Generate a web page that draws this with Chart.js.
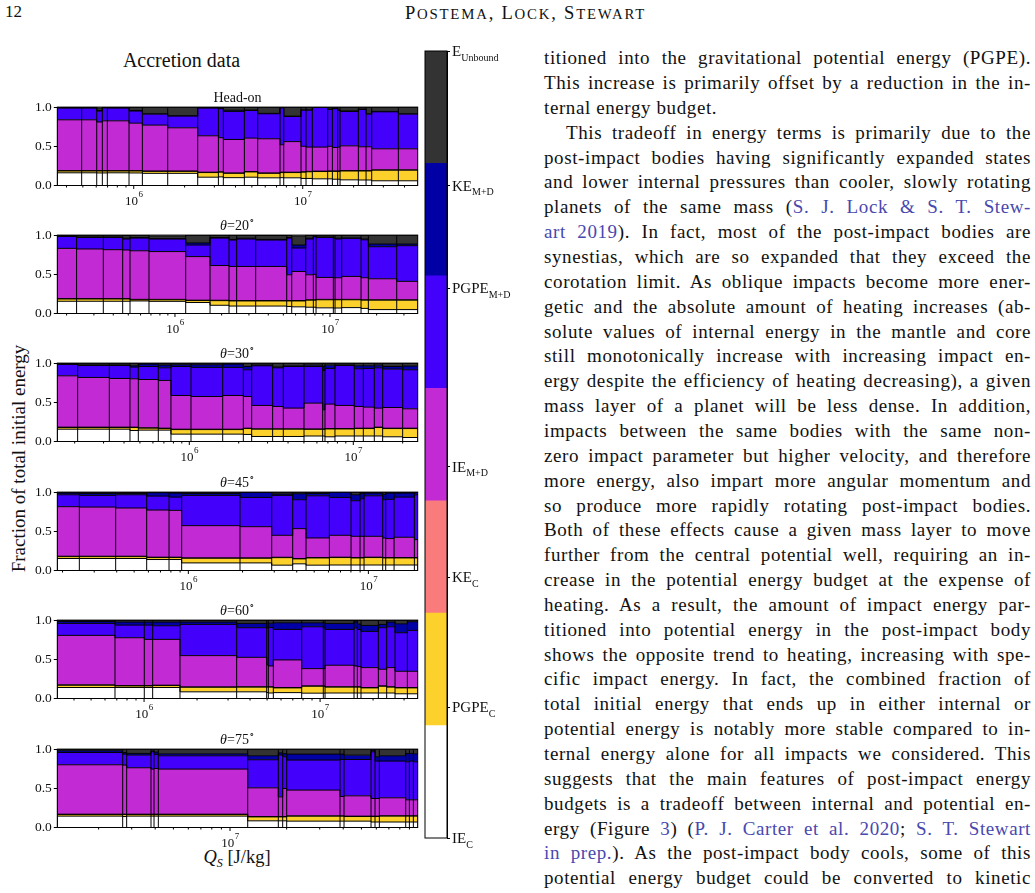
<!DOCTYPE html>
<html>
<head>
<meta charset="utf-8">
<title>Accretion data</title>
<script src="https://cdn.jsdelivr.net/npm/chart.js@4.4.1/dist/chart.umd.min.js"></script>
<style>
  html, body { margin: 0; padding: 0; background: #fff; }
  body { position: relative; width: 1035px; height: 893px; overflow: hidden;
         font-family: "Liberation Serif", "Times New Roman", serif; color: #111; }
  .abs { position: absolute; white-space: nowrap; line-height: 1; }
  canvas { position: absolute; }
  .ln { position: absolute; left: 544px; width: 487px; font-size: 19px; line-height: 24.85px;
        letter-spacing: 0.6px; text-align: justify; text-align-last: justify; }
  .ln a { color: #4848ae; text-decoration: none; }
  .ptitle { position: absolute; left: 137.5px; width: 200px; text-align: center; font-size: 14px; line-height: 1; }
  .deg { font-size: 9px; position: relative; top: -6px; }
  .sc { font-size: 14.8px; }
</style>
</head>
<body>
<div class="abs" style="left:5px; top:3px; font-size:17px;">12</div>
<div class="abs" style="left:325.5px; width:400px; text-align:center; top:4px; font-size:18.5px; letter-spacing:1.8px;">P<span class="sc">OSTEMA</span>, L<span class="sc">OCK</span>, S<span class="sc">TEWART</span></div>
<div class="abs" style="left:81.5px; width:200px; text-align:center; top:50px; font-size:20px;">Accretion data</div>
<div class="abs" style="left:-182px; width:400px; text-align:center; top:448.5px; font-size:19px; transform:rotate(-90deg);">Fraction of total initial energy</div>
<div class="abs" style="left:137px; width:200px; text-align:center; top:847.5px; font-size:18.5px;"><i>Q<span style="font-size:12px; position:relative; top:4px;">S</span></i> [J/kg]</div>

<script>
// ── data: one row per panel (Head-on, 20°, 30°, 45°, 60°, 75°) ──
const panelAngles = [null, 20, 30, 45, 60, 75];

// x-axis limits, Q_S in J/kg
const xMin = [3.53e5, 1.742e5, 1.567e5, 1.871e5, 3.214e5, 1.206e6];
const xMax = [4.79e7, 3.68e7, 2.47e7, 1.879e7, 3.586e7, 9.96e7];

// bar edges, Q_S in J/kg
const edges = [
  [3.53e5, 4.92e5, 6.04e5, 6.52e5, 6.98e5, 9.38e5, 1.125e6, 1.589e6, 2.391e6, 3.17e6, 3.39e6, 4.515e6, 5.415e6, 7.34e6, 7.72e6, 9.77e6, 1.046e7, 1.14e7, 1.405e7, 1.498e7, 1.61e7, 1.663e7, 2.134e7, 2.37e7, 2.56e7, 3.68e7, 4.79e7],
  [1.742e5, 2.32e5, 3.45e5, 4.6e5, 5.13e5, 6.8e5, 1.173e6, 1.684e6, 2.232e6, 2.5e6, 3.317e6, 5.26e6, 5.665e6, 6.973e6, 7.81e6, 8.13e6, 1.051e7, 1.078e7, 1.19e7, 1.586e7, 1.768e7, 2.695e7, 3.68e7],
  [1.567e5, 2.085e5, 3.253e5, 4.347e5, 4.888e5, 6.471e5, 7.73e5, 1.024e6, 1.598e6, 2.135e6, 2.4e6, 3.222e6, 3.743e6, 5.005e6, 6.504e6, 6.72e6, 7.73e6, 1.014e7, 1.151e7, 1.343e7, 1.51e7, 2.0e7, 2.47e7],
  [1.871e5, 2.48e5, 3.947e5, 5.869e5, 7.81e5, 9.18e5, 1.936e6, 2.904e6, 3.798e6, 4.505e6, 6.072e6, 8.01e6, 8.99e6, 9.46e6, 1.201e7, 1.248e7, 1.389e7, 1.801e7, 1.879e7],
  [3.214e5, 6.836e5, 1.003e6, 1.119e6, 1.6e6, 3.358e6, 4.973e6, 5.082e6, 5.425e6, 7.862e6, 1.043e7, 1.067e7, 1.559e7, 1.628e7, 1.708e7, 2.143e7, 2.39e7, 2.666e7, 3.132e7, 3.586e7],
  [1.206e6, 2.686e6, 2.82e6, 3.8e6, 3.943e6, 4.157e6, 1.242e7, 1.807e7, 1.906e7, 2.002e7, 3.847e7, 4.04e7, 5.623e7, 5.906e7, 6.227e7, 8.6e7, 8.995e7, 9.445e7, 9.96e7],
];

// fractions of total initial energy, bottom to top of each bar
const ieC = [
  [.162, .162, .16, .16, .162, .16, .155, .155, .106, .11, .10, .106, .098, .10, .098, .09, .09, .085, .085, .08, .08, .072, .07, .07, .06, .06],
  [.156, .156, .156, .156, .16, .155, .14, .105, .095, .095, .095, .09, .085, .08, .08, .072, .07, .07, .075, .065, .05, .05],
  [.157, .157, .157, .14, .145, .145, .094, .094, .094, .09, .064, .064, .064, .07, .07, .06, .07, .07, .07, .07, .06, .051],
  [.153, .153, .153, .14, .14, .097, .097, .068, .085, .068, .07, .07, .07, .07, .07, .07, .07, .07],
  [.14, .14, .14, .14, .085, .085, .075, .07, .075, .068, .068, .07, .07, .07, .07, .07, .07, .06, .06],
  [.145, .14, .145, .145, .145, .145, .085, .085, .085, .081, .081, .081, .07, .07, .07, .07, .07, .07],
];
const pgpeC = [
  [.023, .023, .025, .025, .023, .025, .025, .025, .059, .06, .055, .067, .057, .065, .067, .08, .085, .093, .095, .10, .10, .113, .115, .115, .135, .135],
  [.029, .029, .029, .029, .015, .02, .025, .059, .065, .065, .065, .07, .075, .09, .09, .103, .105, .105, .10, .105, .12, .12],
  [.021, .021, .021, .038, .025, .02, .058, .058, .058, .075, .093, .093, .093, .085, .085, .10, .09, .095, .095, .108, .105, .114],
  [.024, .024, .024, .025, .025, .059, .059, .096, .063, .092, .095, .09, .09, .095, .09, .09, .09, .09],
  [.029, .02, .02, .025, .058, .06, .07, .075, .06, .088, .088, .075, .075, .075, .065, .086, .075, .075, .075],
  [.02, .025, .02, .02, .02, .02, .05, .05, .05, .063, .063, .059, .07, .07, .075, .075, .075, .075],
];
const keC = [
  [.005, .005, .005, .005, .005, .005, .005, .005, .005, .005, .005, .005, .005, .005, .005, .005, .005, .005, .005, .005, .005, .005, .005, .005, .005, .005],
  [.005, .005, .005, .005, .005, .005, .005, .005, .005, .005, .005, .005, .005, .005, .005, .005, .005, .005, .005, .005, .005, .005],
  [.005, .005, .005, .005, .005, .005, .005, .005, .005, .005, .005, .005, .005, .005, .005, .005, .005, .005, .005, .005, .005, .005],
  [.005, .005, .005, .005, .005, .005, .005, .005, .005, .005, .005, .005, .005, .005, .005, .005, .005, .005],
  [.005, .005, .005, .005, .005, .005, .005, .005, .005, .005, .005, .005, .005, .005, .005, .005, .005, .005, .005],
  [.005, .005, .005, .005, .005, .005, .005, .005, .005, .005, .005, .005, .005, .005, .005, .005, .005, .005],
];
const ieMD = [
  [.648, .648, .62, .635, .635, .605, .585, .551, .464, .435, .427, .426, .436, .35, .39, .325, .31, .307, .315, .30, .305, .316, .304, .304, .268, .268],
  [.641, .633, .624, .62, .62, .61, .556, .443, .435, .435, .435, .329, .371, .319, .325, .28, .275, .276, .293, .281, .268, .235],
  [.655, .634, .621, .617, .616, .609, .43, .417, .43, .404, .298, .285, .264, .329, .244, .312, .295, .277, .268, .243, .264, .247],
  [.632, .627, .615, .601, .597, .411, .398, .28, .381, .25, .279, .271, .271, .266, .25, .242, .259, .229],
  [.631, .61, .589, .584, .399, .375, .28, .265, .352, .22, .22, .274, .265, .257, .254, .212, .244, .207, .207],
  [.63, .626, .592, .575, .583, .575, .366, .251, .358, .328, .247, .259, .225, .225, .229, .203, .203, .203],
];
const pgpeMD = [
  [.149, .149, .14, .165, .162, .155, .14, .149, .353, .37, .358, .353, .319, .47, .32, .46, .47, .506, .47, .495, .47, .439, .476, .416, .472, .442],
  [.152, .147, .156, .14, .162, .16, .147, .35, .337, .35, .337, .468, .299, .456, .48, .51, .505, .494, .485, .484, .409, .455],
  [.145, .153, .166, .149, .166, .161, .37, .371, .358, .341, .506, .493, .531, .468, .502, .455, .51, .481, .494, .514, .489, .498],
  [.152, .149, .169, .178, .169, .386, .373, .509, .369, .538, .483, .454, .479, .517, .488, .50, .512, .572],
  [.153, .161, .182, .174, .398, .378, .47, .49, .389, .534, .52, .457, .488, .473, .462, .53, .521, .492, .522],
  [.157, .14, .161, .221, .179, .17, .358, .532, .404, .383, .472, .464, .596, .477, .468, .485, .494, .485],
];
const keMD = [
  [.005, .005, .005, .003, .003, .007, .005, .005, .003, .005, .015, .005, .005, .003, .005, .005, .005, .002, .005, .005, .005, .005, .005, .005, .005, .005],
  [.005, .005, .005, .01, .008, .005, .027, .008, .008, .01, .008, .008, .038, .01, .005, .005, .005, .01, .007, .01, .034, .021],
  [.007, .005, .005, .017, .03, .035, .022, .034, .042, .042, .009, .01, .008, .017, .05, .042, .005, .038, .034, .034, .034, .047],
  [.021, .025, .017, .043, .051, .025, .064, .017, .076, .03, .068, .076, .065, .034, .067, .08, .051, .034],
  [.025, .039, .039, .047, .03, .055, .06, .055, .085, .051, .06, .077, .077, .07, .076, .042, .06, .114, .11],
  [.022, .02, .022, .009, .03, .025, .051, .03, .04, .076, .068, .055, .018, .055, .068, .107, .098, .102],
];
const eUnb = [
  [.008, .008, .035, .007, .01, .043, .085, .11, .01, .015, .04, .038, .08, .007, .115, .035, .035, .002, .025, .015, .035, .05, .025, .085, .055, .085],
  [.012, .025, .025, .035, .03, .035, .10, .03, .055, .04, .05, .03, .117, .04, .015, .025, .035, .04, .035, .05, .114, .114],
  [.01, .025, .025, .034, .013, .025, .021, .021, .013, .043, .025, .05, .035, .026, .044, .026, .025, .034, .034, .026, .043, .038],
  [.013, .017, .017, .008, .013, .017, .004, .025, .021, .017, 0, .034, .015, .013, .03, .013, .013, 0],
  [.017, .025, .025, .025, .025, .042, .04, .04, .034, .034, .039, .042, .02, .05, .068, .055, .025, .047, .021],
  [.021, .044, .055, .025, .038, .06, .085, .047, .058, .064, .064, .077, .016, .098, .085, .055, .055, .06],
];

// colorbar
const cbarNames = ["IE", "PGPE", "KE", "IE", "PGPE", "KE", "E"];
const cbarSubs = ["C", "C", "C", "M+D", "M+D", "M+D", "Unbound"];
const cbarTicks = [0, 1.165, 2.32, 3.3, 4.89, 5.8, 7];

const textLines = [
  "titioned into the gravitational potential energy (PGPE).",
  "This increase is primarily offset by a reduction in the in-",
  "ternal energy budget.",
  "This tradeoff in energy terms is primarily due to the",
  "post-impact bodies having significantly expanded states",
  "and lower internal pressures than cooler, slowly rotating",
  'planets of the same mass (<a>S. J. Lock &amp; S. T. Stew-</a>',
  '<a>art 2019</a>). In fact, most of the post-impact bodies are',
  "synestias, which are so expanded that they exceed the",
  "corotation limit. As oblique impacts become more ener-",
  "getic and the absolute amount of heating increases (ab-",
  "solute values of internal energy in the mantle and core",
  "still monotonically increase with increasing impact en-",
  "ergy despite the efficiency of heating decreasing), a given",
  "mass layer of a planet will be less dense. In addition,",
  "impacts between the same bodies with the same non-",
  "zero impact parameter but higher velocity, and therefore",
  "more energy, also impart more angular momentum and",
  "so produce more rapidly rotating post-impact bodies.",
  "Both of these effects cause a given mass layer to move",
  "further from the central potential well, requiring an in-",
  "crease in the potential energy budget at the expense of",
  "heating. As a result, the amount of impact energy par-",
  "titioned into potential energy in the post-impact body",
  "shows the opposite trend to heating, increasing with spe-",
  "cific impact energy. In fact, the combined fraction of",
  "total initial energy that ends up in either internal or",
  "potential energy is notably more stable compared to in-",
  "ternal energy alone for all impacts we considered. This",
  "suggests that the main features of post-impact energy",
  "budgets is a tradeoff between internal and potential en-",
  'ergy (Figure <a>3</a>) (<a>P. J. Carter et al. 2020</a>; <a>S. T. Stewart</a>',
  '<a>in prep.</a>). As the post-impact body cools, some of this',
  "potential energy budget could be converted to kinetic",
];

// ── layout ──
const plotTops = [106.7, 234.7, 363.3, 492, 620, 749];
const PLOT_H = 78.5;
const PLOT_L = 57.3;
const PLOT_R = 417.7;
const CANVAS_W = 425;
const CANVAS_H = 112;
const PAD_TOP = 10;
const FONT = '"Liberation Serif", "Times New Roman", serif';

const layers = [ieC, pgpeC, keC, ieMD, pgpeMD, keMD, eUnb];
const layerColors = ["#ffffff", "#fdd12c", "#fa7b7b", "#c22ad4", "#4300fa", "#0000a5", "#333333"];

Chart.defaults.font.family = FONT;
Chart.defaults.color = "#111";

// body text
textLines.forEach((t, i) => {
  const d = document.createElement("div");
  d.className = "ln";
  d.style.top = (46.2 + i * 24.85) + "px";
  d.innerHTML = t;
  if (i === 2) d.style.textAlignLast = "left";
  if (i === 3) d.style.textIndent = "22px";
  document.body.appendChild(d);
});

// x ticks (log, with 10^n labels) and a frame around each panel
const logAxisDeco = {
  id: "logAxisDeco",
  afterDraw(chart) {
    const { ctx, chartArea: a } = chart;
    const x = chart.scales.x;
    ctx.save();
    ctx.strokeStyle = "#000";
    ctx.lineWidth = 1;
    ctx.strokeRect(a.left, a.top, a.right - a.left, a.bottom - a.top);
    const lo = Math.floor(Math.log10(x.min));
    const hi = Math.ceil(Math.log10(x.max));
    for (let d = lo; d <= hi; d++) {
      for (let m = 1; m <= 9; m++) {
        const v = m * Math.pow(10, d);
        if (v < x.min * 0.999 || v > x.max * 1.001) continue;
        const px = x.getPixelForValue(v);
        ctx.beginPath();
        ctx.moveTo(px, a.bottom);
        ctx.lineTo(px, a.bottom + (m === 1 ? 3.5 : 2));
        ctx.stroke();
        if (m === 1) {
          ctx.fillStyle = "#111";
          ctx.textAlign = "left";
          ctx.textBaseline = "alphabetic";
          ctx.font = "13px " + FONT;
          const w1 = ctx.measureText("10").width;
          ctx.font = "9px " + FONT;
          const w2 = ctx.measureText(String(d)).width;
          const x0 = px - (w1 + w2) / 2;
          ctx.font = "13px " + FONT;
          ctx.fillText("10", x0, a.bottom + 19.3);
          ctx.font = "9px " + FONT;
          ctx.fillText(String(d), x0 + w1 + 0.5, a.bottom + 11.7);
        }
      }
    }
    ctx.restore();
  },
};

function buildPanel(p) {
  const e = edges[p];
  const n = e.length - 1;
  const cum = new Array(n).fill(0);
  const datasets = [];

  // ── stacked layers as stepped lines filled to the one below ──
  layers.forEach((layer, k) => {
    for (let i = 0; i < n; i++) cum[i] += layer[p][i] || 0;
    const pts = e.map((x, i) => ({ x: x, y: cum[Math.min(i, n - 1)] }));
    datasets.push({
      data: pts,
      stepped: "before",
      fill: k === 0 ? "origin" : "-1",
      backgroundColor: layerColors[k],
      borderColor: "#000",
      borderWidth: 1,
      pointRadius: 0,
      order: 1,
    });
  });

  // ── bar outlines ──
  const vert = [];
  e.forEach((x, i) => {
    const t = Math.max(cum[Math.max(i - 1, 0)], cum[Math.min(i, n - 1)]);
    vert.push({ x: x, y: 0 }, { x: x, y: t }, { x: x, y: null });
  });
  datasets.push({
    data: vert,
    borderColor: "#000",
    borderWidth: 1,
    pointRadius: 0,
    fill: false,
    spanGaps: false,
    order: 0,
  });

  const canvas = document.createElement("canvas");
  canvas.width = CANVAS_W;
  canvas.height = CANVAS_H;
  canvas.style.left = "0px";
  canvas.style.top = (plotTops[p] - PAD_TOP) + "px";
  document.body.appendChild(canvas);

  new Chart(canvas, {
    type: "line",
    data: { datasets },
    options: {
      responsive: false,
      animation: false,
      events: [],
      layout: { padding: { top: PAD_TOP, right: CANVAS_W - PLOT_R, bottom: 0, left: 0 } },
      plugins: { legend: { display: false }, tooltip: { enabled: false } },
      scales: {
        x: {
          type: "logarithmic",
          min: xMin[p],
          max: xMax[p],
          ticks: { display: false },
          grid: { display: false },
          border: { display: true, color: "#000" },
          afterFit: (s) => { s.height = CANVAS_H - PAD_TOP - PLOT_H; },
        },
        y: {
          min: 0,
          max: 1,
          ticks: {
            stepSize: 0.5,
            padding: 2,
            color: "#111",
            font: { size: 13.5 },
            callback: (v) => Number(v).toFixed(1),
          },
          grid: { drawOnChartArea: false, tickLength: 3.5, tickColor: "#000" },
          border: { display: true, color: "#000" },
          afterFit: (s) => { s.width = PLOT_L; },
        },
      },
    },
    plugins: [logAxisDeco],
  });

  // panel title
  const t = document.createElement("div");
  t.className = "ptitle";
  t.style.top = (plotTops[p] - 16.2) + "px";
  t.innerHTML = panelAngles[p] === null
    ? "Head-on"
    : '<i>θ</i>=' + panelAngles[p] + '<span class="deg">∘</span>';
  document.body.appendChild(t);
}

for (let p = 0; p < edges.length; p++) buildPanel(p);

// ── colorbar ──
const cbarLabelsPlugin = {
  id: "cbarLabels",
  afterDraw(chart) {
    const { ctx, chartArea: a } = chart;
    const y = chart.scales.y;
    ctx.save();
    ctx.strokeStyle = "#000";
    ctx.lineWidth = 1;
    ctx.strokeRect(a.left, a.top, a.right - a.left, a.bottom - a.top);
    ctx.fillStyle = "#111";
    ctx.textAlign = "left";
    ctx.textBaseline = "alphabetic";
    cbarTicks.forEach((v, i) => {
      const py = y.getPixelForValue(v);
      const x0 = a.right + 5;
      ctx.font = "15px " + FONT;
      ctx.fillText(cbarNames[i], x0, py + 5);
      const w = ctx.measureText(cbarNames[i]).width;
      ctx.font = "10px " + FONT;
      ctx.fillText(cbarSubs[i], x0 + w, py + 9.5);
    });
    ctx.restore();
  },
};

const cbCanvas = document.createElement("canvas");
cbCanvas.width = 110;
cbCanvas.height = 820;
cbCanvas.style.left = "420px";
cbCanvas.style.top = "40px";
document.body.appendChild(cbCanvas);

new Chart(cbCanvas, {
  type: "bar",
  data: {
    labels: [""],
    datasets: layerColors.map((c) => ({
      data: [1],
      backgroundColor: c,
      borderWidth: 0,
      categoryPercentage: 1,
      barPercentage: 1,
    })),
  },
  options: {
    responsive: false,
    animation: false,
    events: [],
    layout: { padding: { top: 11, right: 0, bottom: 22, left: 5 } },
    plugins: { legend: { display: false }, tooltip: { enabled: false } },
    scales: {
      x: { display: false, stacked: true },
      y: {
        stacked: true,
        position: "right",
        min: 0,
        max: 7,
        afterBuildTicks: (s) => { s.ticks = cbarTicks.map((v) => ({ value: v })); },
        ticks: { display: false },
        grid: { drawOnChartArea: false, tickLength: 3, tickColor: "#000" },
        border: { display: true, color: "#000" },
        afterFit: (s) => { s.width = 83; },
      },
    },
  },
  plugins: [cbarLabelsPlugin],
});
</script>
</body>
</html>
